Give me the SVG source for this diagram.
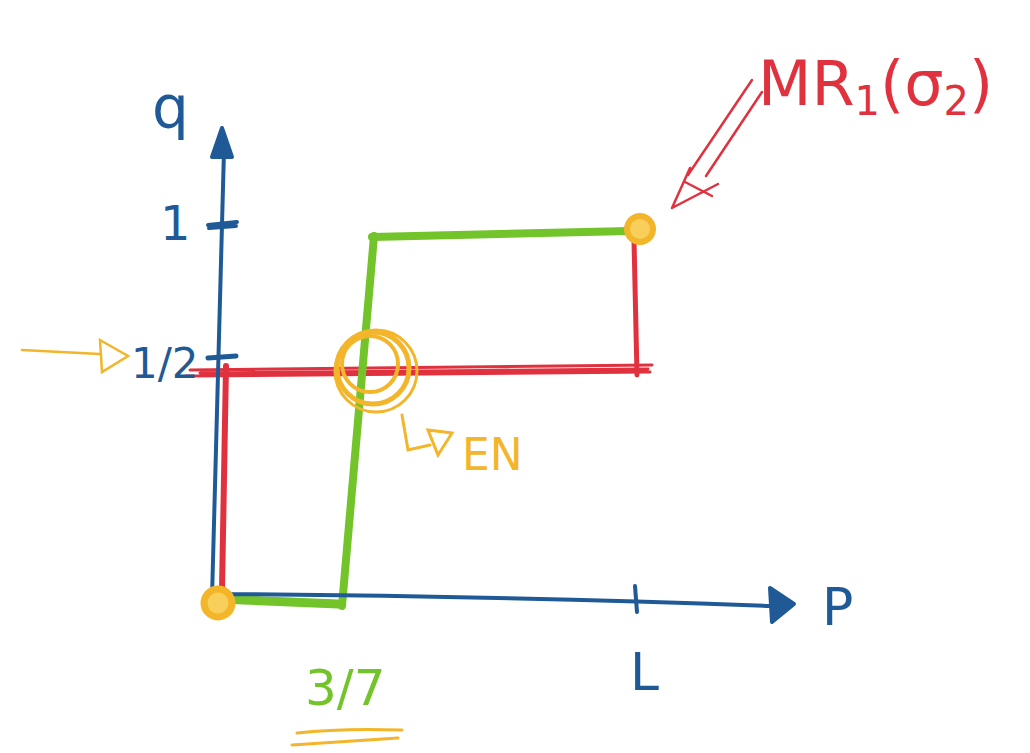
<svg xmlns="http://www.w3.org/2000/svg" width="1030" height="753" viewBox="0 0 1030 753">
<style>
.blue{stroke:#1f5a96;fill:none;stroke-linecap:round;stroke-linejoin:round}
.bluefill{stroke:#1f5a96;fill:#1f5a96;stroke-linejoin:round}
.red{stroke:#e0313f;fill:none;stroke-linecap:round}
.green{stroke:#72c42a;fill:none;stroke-linecap:round}
.yel{stroke:#f3b52a;fill:none;stroke-linecap:round}
.dot{stroke:#f3b52a;fill:#f8cf5a}
.tb{font-family:"DejaVu Sans",sans-serif;fill:#1f5a96}
.tr{font-family:"DejaVu Sans",sans-serif;fill:#e0313f}
.tg{font-family:"DejaVu Sans",sans-serif;fill:#72c42a}
.ty{font-family:"DejaVu Sans",sans-serif;fill:#f3b52a}
</style>
<rect width="1030" height="753" fill="#ffffff"/>
<g id="connectors">
  <path class="red" stroke-width="3" d="M186 376 L650 372 M190 370 L652 365 M200 373 L648 369"/>
  <path class="red" stroke-width="6" d="M226 366 L222 590"/>
  <path class="red" stroke-width="5" d="M634 240 L637 375"/>
  <path class="green" stroke-width="9" d="M218 599 L338 604"/>
  <path class="green" stroke-width="8" d="M342 606 L374 236"/>
  <path class="green" stroke-width="8" d="M372 237 L630 231"/>
  <path id="qaxis" class="blue" stroke-width="4" d="M212 598 Q218 400 224 150"/>
  <path class="bluefill" stroke-width="4" d="M212 157 L222 128 L232 157 Z"/>
  <path class="blue" stroke-width="4" d="M208 225 L237 222 M209 228 L236 226"/>
  <path class="blue" stroke-width="5" d="M208 358 L236 356"/>
  <path id="paxis" class="blue" stroke-width="4" d="M214 594 Q500 596 772 606"/>
  <path class="bluefill" stroke-width="4" d="M770 588 L794 604 L772 622 Z"/>
  <path class="blue" stroke-width="4" d="M635 586 L637 612"/>
  <path class="yel" stroke-width="2.5" d="M22 350 L100 354 M100 340 L128 356 L102 372 Z"/>
  <path class="red" stroke-width="2.5" d="M752 80 L688 175 M762 92 L706 176 M672 208 L690 168 M672 208 L718 184"/>
  <path class="red" stroke-width="2.5" d="M685 182 L712 196"/>
  <circle class="dot" stroke-width="7" cx="218" cy="603" r="14"/>
  <circle class="dot" stroke-width="6" cx="640" cy="229" r="13"/>
  <circle class="yel" stroke-width="5" cx="373" cy="368" r="36"/>
  <circle class="yel" stroke-width="4" cx="370" cy="364" r="28"/>
  <circle class="yel" stroke-width="3" cx="376" cy="371" r="41"/>
  <path class="yel" stroke-width="3" d="M297 733 Q340 728 402 730 M292 745 Q340 742 398 738"/>
  <path class="yel" stroke-width="3" d="M402 415 L408 450 L430 445 M428 430 L452 433 L438 455 Z"/>
</g>
<g id="labels">
  <text class="tb" x="152" y="128" font-size="58">q</text>
  <text class="tb" x="160" y="240" font-size="48">1</text>
  <text class="tb" x="131" y="378" font-size="42">1/2</text>
  <text class="tb" x="630" y="690" font-size="52">L</text>
  <text class="tb" x="822" y="625" font-size="52">P</text>
  <text class="tg" x="305" y="705" font-size="50">3/7</text>
  <text class="ty" x="462" y="470" font-size="44">EN</text>
  <text class="tr" x="758" y="105" font-size="62">MR<tspan font-size="40" dy="10">1</tspan><tspan dy="-10">(σ</tspan><tspan font-size="40" dy="10">2</tspan><tspan dy="-10">)</tspan></text>
</g>
</svg>
